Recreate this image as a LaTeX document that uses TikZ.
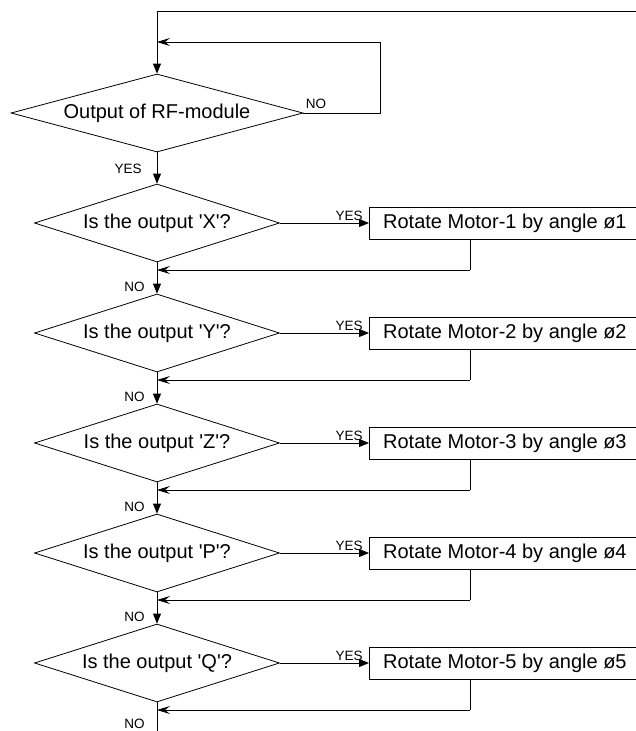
\documentclass[tikz,border=0pt]{standalone}
\usepackage{fontspec}
\setmainfont{Liberation Sans}
\usetikzlibrary{shapes.geometric,arrows.meta}
\begin{document}
\begin{tikzpicture}[x=1pt,y=-1pt,line width=0.8pt,
  decbig/.style={draw,diamond,inner sep=0pt,minimum width=292pt,minimum height=78pt,aspect=3.74,font=\fontsize{20}{22}\selectfont},
  dec/.style={draw,diamond,inner sep=0pt,minimum width=245pt,minimum height=78pt,aspect=3.14,font=\fontsize{20}{22}\selectfont},
  actbox/.style={draw,rectangle,minimum width=271pt,minimum height=32pt,inner sep=0pt,font=\fontsize{20}{22}\selectfont},
  lab/.style={font=\fontsize{13.5}{15}\selectfont,inner sep=1pt},
  down/.style={-{Triangle[length=10pt,width=8pt]}},
  ret/.style={-{Stealth[length=13pt,width=8pt,inset=5pt]}}]
\useasboundingbox (0,0) rectangle (635,731);
\node[decbig] (d0) at (157,113) {Output of RF-module};
\coordinate (top) at (157,11);
\coordinate (topr) at (640,11);
\coordinate (l0) at (380,42);
\draw (topr) -- (top);
\draw[down] (top) -- (d0.north);
\draw[ret] (d0.east) -| (l0) -- (d0.north |- l0);
\node[lab,anchor=south west] at ([xshift=1pt,yshift=3pt]d0.east) {NO};
\foreach \k/\l in {1/X,2/Y,3/Z,4/P,5/Q}{
  \pgfmathsetmacro\yc{223+110*(\k-1)}
  \node[dec] (d\k) at (157,\yc) {Is the output \textquotesingle\l\textquotesingle?};
  \node[actbox,anchor=west] (b\k) at (369,\yc) {Rotate Motor-\k{} by angle ø\k};
  \coordinate (r\k) at (470,\yc+47);
  \draw[down] (d\k.east) -- (b\k.west);
  \node[lab,anchor=south east] at ([xshift=-5pt,yshift=1pt]b\k.west) {YES};
  \draw (b\k.south -| r\k) -- (r\k);
  \draw[ret] (r\k) -- (r\k -| d\k.south);
}
\node[lab,anchor=east] at (146,287) {NO};
\node[lab,anchor=east] at (146,397) {NO};
\node[lab,anchor=east] at (146,507) {NO};
\node[lab,anchor=east] at (146,617) {NO};
\node[lab,anchor=east] at (146,724) {NO};
\node[lab,anchor=east] at (143,169) {YES};
\draw[down] (d0.south) -- (d1.north);
\draw[down] (d1.south) -- (d2.north);
\draw[down] (d2.south) -- (d3.north);
\draw[down] (d3.south) -- (d4.north);
\draw[down] (d4.south) -- (d5.north);
\coordinate (bot) at (157,735);
\draw (d5.south) -- (bot);
\end{tikzpicture}
\end{document}
